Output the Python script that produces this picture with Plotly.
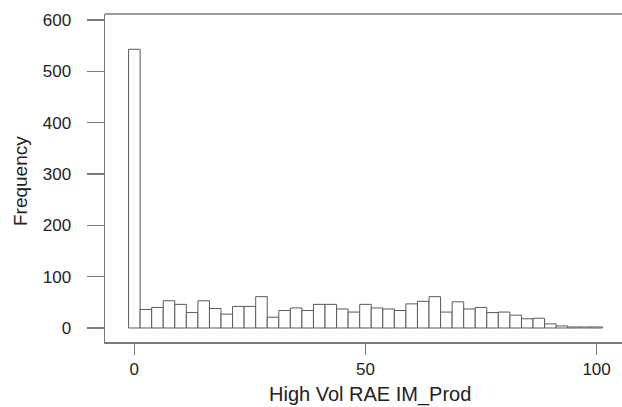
import plotly.graph_objects as go

# Histogram of High Vol RAE IM_Prod (bin width 2.5, centred on multiples of 2.5)
bin_centers = [0, 2.5, 5, 7.5, 10, 12.5, 15, 17.5, 20, 22.5, 25, 27.5, 30, 32.5, 35,
               37.5, 40, 42.5, 45, 47.5, 50, 52.5, 55, 57.5, 60, 62.5, 65, 67.5, 70,
               72.5, 75, 77.5, 80, 82.5, 85, 87.5, 90, 92.5, 95, 97.5, 100]
frequencies = [543, 36, 40, 53, 46, 30, 53, 38, 27, 42, 42, 61, 21, 34, 39,
               34, 46, 46, 37, 31, 46, 39, 37, 34, 47, 52, 61, 31, 51,
               37, 40, 30, 31, 25, 18, 19, 8, 4, 2, 2, 2]
bin_width = 2.5
y_ticks = [0, 100, 200, 300, 400, 500, 600]
x_ticks = [0, 50, 100]

FONT = "Liberation Sans, Arial, Helvetica, sans-serif"
AXIS_COL = "#7a7a7a"

fig = go.Figure(go.Bar(
    x=bin_centers, y=frequencies, width=bin_width,
    marker=dict(color="white", line=dict(color="#5a5a5a", width=1)),
    hoverinfo="skip",
))

fig.update_layout(
    width=622, height=407,
    margin=dict(l=105, r=0, t=14, b=65),
    paper_bgcolor="white", plot_bgcolor="white",
    showlegend=False,
    hovermode=False, dragmode=False,
    font=dict(family=FONT, color="#222222"),
    bargap=0,
    shapes=[dict(type="line", xref="paper", yref="paper", x0=0, x1=1, y0=1, y1=1,
                 line=dict(color=AXIS_COL, width=1.5))],
    annotations=[
        dict(text="High Vol RAE IM_Prod", xref="x", yref="paper", x=51, y=-0.16,
             xanchor="center", yanchor="middle", showarrow=False,
             font=dict(family=FONT, size=20, color="#222222")),
        dict(text="Frequency", xref="paper", yref="paper", x=-0.163, y=0.49,
             xanchor="center", yanchor="middle", textangle=-90, showarrow=False,
             font=dict(family=FONT, size=19, color="#222222")),
    ],
)

fig.update_xaxes(
    range=[-6.35, 105.5], tickvals=x_ticks, ticktext=[str(v) for v in x_ticks],
    showgrid=False, zeroline=False, showspikes=False, fixedrange=True,
    showline=True, mirror=False, linecolor=AXIS_COL, linewidth=1.5,
    ticks="outside", ticklen=11, tickwidth=1.2, tickcolor=AXIS_COL,
    tickfont=dict(family=FONT, size=17, color="#222222"),
    ticklabelstandoff=0,
)
fig.update_yaxes(
    range=[-27.3, 611.7], tickvals=y_ticks, ticktext=[str(v) for v in y_ticks],
    showgrid=False, zeroline=False, showspikes=False, fixedrange=True,
    showline=True, mirror=False, linecolor=AXIS_COL, linewidth=1.5,
    ticks="outside", ticklen=17, tickwidth=1.2, tickcolor=AXIS_COL,
    tickfont=dict(family=FONT, size=17, color="#222222"),
    ticklabelstandoff=12,
)

fig.write_html(
    "out.html",
    config={"displayModeBar": False, "staticPlot": True},
    post_script="document.body.style.margin='0';document.body.style.overflow='hidden';",
)
